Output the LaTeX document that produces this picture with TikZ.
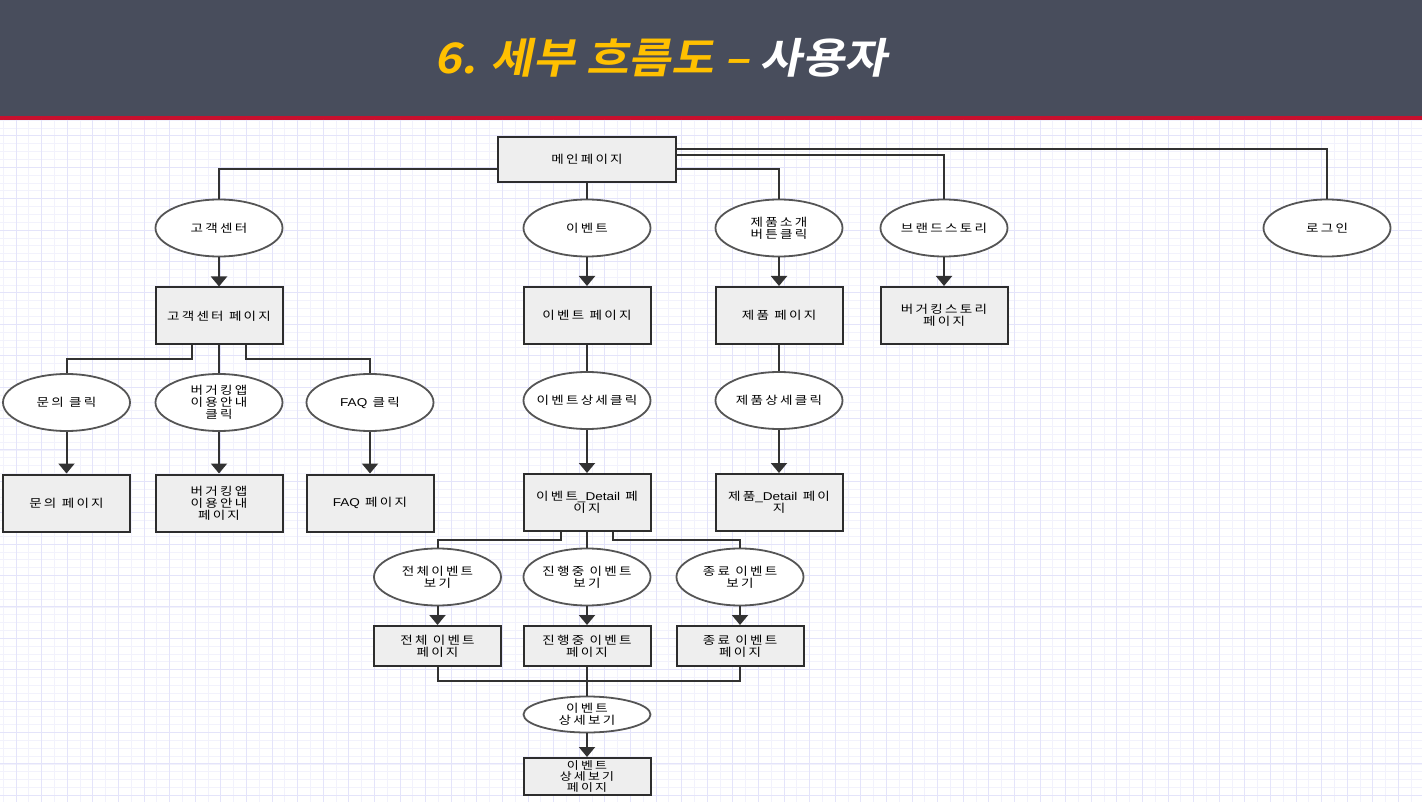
\documentclass[tikz,border=0pt]{standalone}
\usepackage{fontspec}
\usetikzlibrary{arrows.meta,shapes.geometric}
\newfontfamily\nodefont[FakeStretch=1.2, LetterSpace=20]{Noto Sans CJK KR}
\newfontfamily\latinfont[FakeStretch=1.2]{Liberation Sans}
\newfontfamily\titlefont[FakeSlant=0.2, FakeStretch=1.1]{Noto Sans CJK KR Bold}
\definecolor{hdrgray}{RGB}{72,77,92}
\definecolor{hdrred}{RGB}{200,16,46}
\definecolor{titleyellow}{RGB}{255,192,0}
\definecolor{gridmajor}{RGB}{228,228,250}
\definecolor{gridminor}{RGB}{242,242,252}
\definecolor{boxfill}{RGB}{238,238,238}
\definecolor{boxline}{RGB}{45,45,45}
\definecolor{ovalline}{RGB}{85,85,85}
\definecolor{wire}{RGB}{50,50,50}
\tikzset{
  pagebox/.style={draw=boxline, fill=boxfill, line width=2pt, minimum width=127pt,
    minimum height=57pt, align=center, inner sep=1pt,
    font=\nodefont\fontsize{11.3}{12.2}\selectfont},
  clickoval/.style={ellipse, draw=ovalline, fill=white, line width=1.8pt, minimum width=127pt,
    minimum height=57pt, align=center, inner ysep=1pt, inner xsep=-20pt,
    font=\nodefont\fontsize{11.3}{12.2}\selectfont},
  wireline/.style={draw=wire, line width=2pt},
  flow/.style={wireline, -{Triangle[width=16pt,length=10pt]}}
}

\begin{document}
\begin{tikzpicture}[x=1pt, y=-1pt, line cap=butt, line join=miter]
  \useasboundingbox (0,0) rectangle (1422,802);
  % header and grid paper
  \fill[hdrgray] (0,0) rectangle (1422,116);
  \fill[hdrred] (0,116) rectangle (1422,120);
  \fill[white] (0,120) rectangle (1422,802);
  \foreach \i in {0,...,111}
    \draw[gridminor, line width=0.8pt] ({3.2+12.8*\i},120) -- ({3.2+12.8*\i},802);
  \foreach \j in {-1,...,86}
    \draw[gridminor, line width=0.8pt] (0,{795.3-7.85*\j}) -- (1422,{795.3-7.85*\j});
  \foreach \i in {0,...,55}
    \draw[gridmajor, line width=1pt] ({16+25.6*\i},120) -- ({16+25.6*\i},802);
  \foreach \j in {0,...,21}
    \draw[gridmajor, line width=1pt] (0,{795.3-31.4*\j}) -- (1422,{795.3-31.4*\j});
  \node (title) at (661,58) {\titlefont\fontsize{42}{44}\selectfont
    \color{titleyellow}6. 세부 흐름도 – \color{white}사용자};

  % top level
  \node[pagebox, minimum width=178pt, minimum height=45pt] (main) at (587,159.5) {메인페이지};
  \node[clickoval] (cs) at (219,228) {고객센터};
  \node[clickoval] (ev) at (587,228) {이벤트};
  \node[clickoval] (pi) at (779,228) {제품소개\\버튼클릭};
  \node[clickoval] (bs) at (944,228) {브랜드스토리};
  \node[clickoval] (lg) at (1327,228) {로그인};
  \node[pagebox] (csp) at (219,316) {고객센터 페이지};
  \node[pagebox] (evp) at (587,315.5) {이벤트 페이지};
  \node[pagebox] (pp) at (779,315.5) {제품 페이지};
  \node[pagebox] (bsp) at (944,315.5) {버거킹스토리\\페이지};

  % customer center branch
  \node[clickoval] (ask) at (66.5,402.5) {문의 클릭};
  \node[clickoval] (guide) at (219,402.5) {버거킹앱\\이용안내\\클릭};
  \node[clickoval] (faq) at (370,402.5) {{\latinfont FAQ} 클릭};
  \node[pagebox] (askp) at (66.5,503) {문의 페이지};
  \node[pagebox] (guidep) at (219,503) {버거킹앱\\이용안내\\페이지};
  \node[pagebox] (faqp) at (370,503) {{\latinfont FAQ} 페이지};

  % event and product detail
  \node[clickoval] (evc) at (587,400.5) {이벤트상세클릭};
  \node[clickoval] (pdc) at (779,400.5) {제품상세클릭};
  \node[pagebox] (evd) at (587,502.5) {이벤트{\latinfont\_Detail} 페\\이지};
  \node[pagebox] (pd) at (779,502.5) {제품{\latinfont\_Detail} 페이\\지};
  \node[clickoval] (all) at (437.5,577) {전체이벤트\\보기};
  \node[clickoval] (ing) at (587,577) {진행중 이벤트\\보기};
  \node[clickoval] (done) at (740,577) {종료 이벤트\\보기};
  \node[pagebox, minimum height=40pt] (allp) at (437.5,646) {전체 이벤트\\페이지};
  \node[pagebox, minimum height=40pt] (ingp) at (587,646) {진행중 이벤트\\페이지};
  \node[pagebox, minimum height=40pt] (donep) at (740,646) {종료 이벤트\\페이지};
  \node[clickoval, minimum height=36pt] (view) at (587,714.5) {이벤트\\상세보기};
  \node[pagebox, minimum height=37pt, inner sep=0pt,
    font=\nodefont\fontsize{10.8}{11}\selectfont] (viewp) at (587,776.5) {이벤트\\상세보기\\페이지};

  % connectors from main
  \draw[wireline] ([yshift=-9.5pt]main.west) -| (cs.north);
  \draw[wireline] (main.south) -- (ev.north);
  \draw[wireline] ([yshift=-9.5pt]main.east) -| (pi.north);
  \draw[wireline] ([yshift=4.5pt]main.east) -| (bs.north);
  \draw[wireline] ([yshift=10.5pt]main.east) -| (lg.north);
  \draw[flow] (cs.south) -- (csp.north);
  \draw[flow] (ev.south) -- (evp.north);
  \draw[flow] (pi.south) -- (pp.north);
  \draw[flow] (bs.south) -- (bsp.north);

  % customer center children
  \draw[wireline] ([xshift=-27pt]csp.south) -- ++(0,13.5) -| (ask.north);
  \draw[wireline] (csp.south) -- (guide.north);
  \draw[wireline] ([xshift=27pt]csp.south) -- ++(0,13.5) -| (faq.north);
  \draw[flow] (ask.south) -- (askp.north);
  \draw[flow] (guide.south) -- (guidep.north);
  \draw[flow] (faq.south) -- (faqp.north);

  % detail chains
  \draw[wireline] (evp.south) -- (evc.north);
  \draw[wireline] (pp.south) -- (pdc.north);
  \draw[flow] (evc.south) -- (evd.north);
  \draw[flow] (pdc.south) -- (pd.north);
  \draw[wireline] ([xshift=-26.5pt]evd.south) -- ++(0,8) -| (all.north);
  \draw[wireline] (evd.south) -- (ing.north);
  \draw[wireline] ([xshift=25.5pt]evd.south) -- ++(0,8) -| (done.north);
  \draw[flow] (all.south) -- (allp.north);
  \draw[flow] (ing.south) -- (ingp.north);
  \draw[flow] (done.south) -- (donep.north);
  \draw[wireline] (allp.south) -- ++(0,14) -| (donep.south);
  \draw[wireline] (ingp.south) -- (view.north);
  \draw[flow] (view.south) -- (viewp.north);
\end{tikzpicture}
\end{document}
